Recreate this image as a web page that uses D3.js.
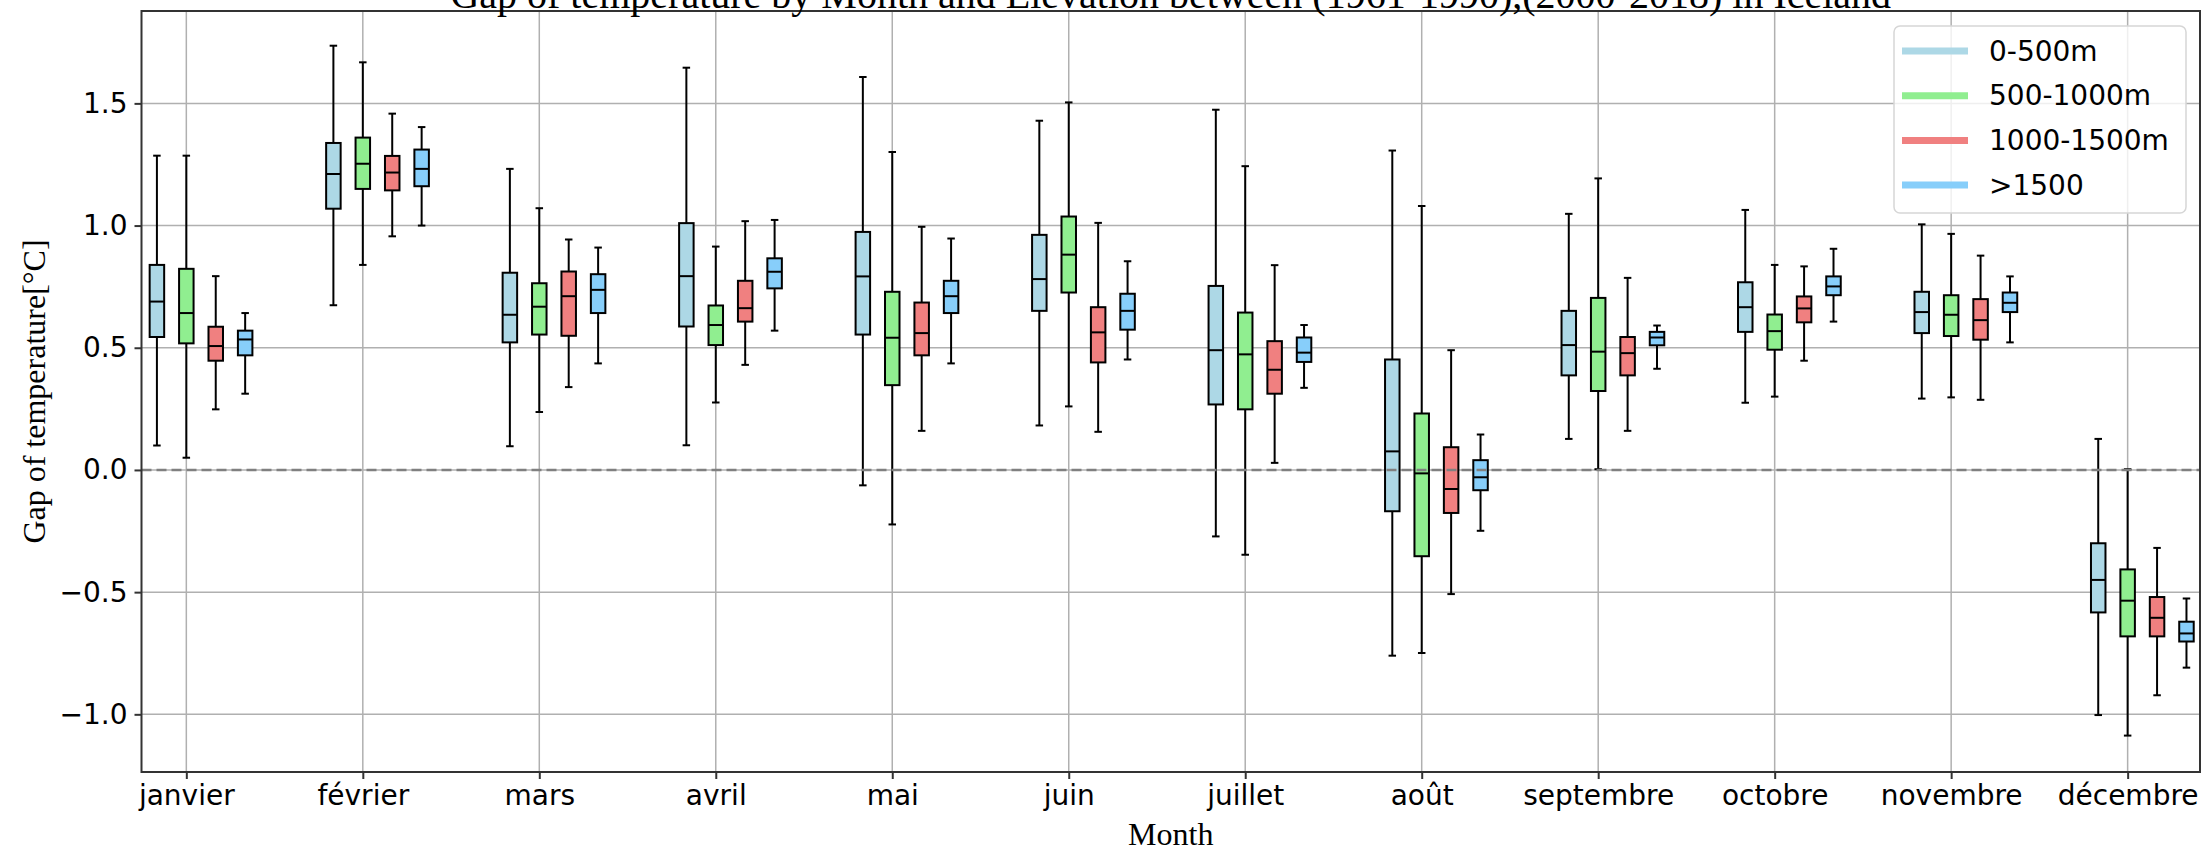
<!DOCTYPE html>
<html>
<head>
<meta charset="utf-8">
<script src="https://cdn.jsdelivr.net/npm/d3@7"></script>
<style>
  html, body { margin: 0; padding: 0; background: #fff; }
  svg { display: block; }
</style>
</head>
<body>
<svg id="chart" width="2206" height="851"></svg>
<script>
// Mois (axe x)
const months = ["janvier", "février", "mars", "avril", "mai", "juin",
  "juillet", "août", "septembre", "octobre", "novembre", "décembre"];

// Tranches d'altitude et couleurs
const elevations = ["0-500m", "500-1000m", "1000-1500m", ">1500"];
const colors = ["#add8e6", "#90ee90", "#f08080", "#87cefa"];

// Résumés des boîtes par mois : [min, q1, médiane, q3, max]
const box0to500 = [
  [0.100, 0.544, 0.689, 0.839, 1.286],
  [0.674, 1.069, 1.211, 1.338, 1.736],
  [0.097, 0.522, 0.635, 0.807, 1.232],
  [0.101, 0.587, 0.793, 1.010, 1.646],
  [-0.063, 0.554, 0.792, 0.974, 1.608],
  [0.182, 0.651, 0.781, 0.962, 1.429],
  [-0.272, 0.268, 0.490, 0.753, 1.474],
  [-0.760, -0.169, 0.076, 0.452, 1.307],
  [0.127, 0.387, 0.511, 0.651, 1.048],
  [0.275, 0.565, 0.666, 0.768, 1.064],
  [0.292, 0.560, 0.646, 0.729, 1.005],
  [-1.003, -0.583, -0.450, -0.300, 0.127]
];
const box500to1000 = [
  [0.050, 0.518, 0.642, 0.823, 1.286],
  [0.839, 1.150, 1.253, 1.360, 1.668],
  [0.237, 0.554, 0.668, 0.764, 1.071],
  [0.276, 0.511, 0.593, 0.673, 0.914],
  [-0.223, 0.347, 0.541, 0.729, 1.301],
  [0.260, 0.726, 0.881, 1.037, 1.504],
  [-0.347, 0.248, 0.473, 0.644, 1.243],
  [-0.749, -0.353, -0.014, 0.231, 1.080],
  [0.003, 0.323, 0.484, 0.704, 1.193],
  [0.300, 0.492, 0.568, 0.636, 0.839],
  [0.297, 0.548, 0.635, 0.715, 0.966],
  [-1.087, -0.681, -0.535, -0.407, 0.003]
];
const box1000to1500 = [
  [0.248, 0.447, 0.507, 0.586, 0.793],
  [0.956, 1.144, 1.217, 1.285, 1.458],
  [0.339, 0.549, 0.711, 0.812, 0.943],
  [0.430, 0.607, 0.662, 0.774, 1.018],
  [0.160, 0.469, 0.560, 0.685, 0.995],
  [0.156, 0.440, 0.563, 0.666, 1.011],
  [0.029, 0.312, 0.410, 0.527, 0.838],
  [-0.508, -0.176, -0.078, 0.093, 0.490],
  [0.160, 0.387, 0.478, 0.544, 0.786],
  [0.447, 0.604, 0.661, 0.710, 0.833],
  [0.287, 0.533, 0.613, 0.699, 0.877],
  [-0.922, -0.681, -0.605, -0.520, -0.319]
];
const boxAbove1500 = [
  [0.312, 0.469, 0.534, 0.570, 0.642],
  [1.000, 1.161, 1.232, 1.311, 1.403],
  [0.436, 0.642, 0.737, 0.801, 0.910],
  [0.570, 0.743, 0.811, 0.866, 1.023],
  [0.436, 0.642, 0.711, 0.774, 0.947],
  [0.452, 0.574, 0.651, 0.721, 0.854],
  [0.336, 0.442, 0.480, 0.542, 0.593],
  [-0.249, -0.083, -0.030, 0.040, 0.145],
  [0.414, 0.510, 0.542, 0.565, 0.591],
  [0.607, 0.715, 0.751, 0.792, 0.905],
  [0.522, 0.646, 0.684, 0.726, 0.792],
  [-0.809, -0.702, -0.669, -0.621, -0.526]
];

// Graduations de l'axe y
const yTicks = [-1.0, -0.5, 0.0, 0.5, 1.0, 1.5];

const series = [box0to500, box500to1000, box1000to1500, boxAbove1500];

document.addEventListener("DOMContentLoaded", () => {
  const svg = d3.select("#chart");
  const left = 141.5, right = 2200, top = 11, bottom = 772;
  const sansFont = "'DejaVu Sans', sans-serif";
  const serifFont = "'Liberation Serif', 'Times New Roman', serif";

  // Échelles
  const x = d3.scaleLinear().domain([-0.254, 11.41]).range([left, right]);
  const y = d3.scaleLinear().domain([-1.236, 1.878]).range([bottom, top]);
  const boxW = 14.5;
  const capW = 7.5;
  const offset = k => (k - 1) / 6;

  // Grille
  svg.append("g")
    .selectAll("line")
    .data(months)
    .join("line")
      .attr("x1", (d, i) => x(i)).attr("x2", (d, i) => x(i))
      .attr("y1", top).attr("y2", bottom)
      .attr("stroke", "#b0b0b0").attr("stroke-width", 1.5);

  svg.append("g")
    .selectAll("line")
    .data(yTicks)
    .join("line")
      .attr("x1", left).attr("x2", right)
      .attr("y1", d => y(d)).attr("y2", d => y(d))
      .attr("stroke", "#b0b0b0").attr("stroke-width", 1.5);

  // Boîtes à moustaches
  series.forEach((boxes, k) => {
    const g = svg.append("g");
    boxes.forEach((b, i) => {
      const cx = x(i + offset(k));
      // moustaches
      g.append("line")
        .attr("x1", cx).attr("x2", cx)
        .attr("y1", y(b[0])).attr("y2", y(b[1]))
        .attr("stroke", "#000").attr("stroke-width", 2);
      g.append("line")
        .attr("x1", cx).attr("x2", cx)
        .attr("y1", y(b[3])).attr("y2", y(b[4]))
        .attr("stroke", "#000").attr("stroke-width", 2);
      // caps
      [b[0], b[4]].forEach(v => {
        g.append("line")
          .attr("x1", cx - capW / 2).attr("x2", cx + capW / 2)
          .attr("y1", y(v)).attr("y2", y(v))
          .attr("stroke", "#000").attr("stroke-width", 2);
      });
      // boîte
      g.append("rect")
        .attr("x", cx - boxW / 2)
        .attr("y", y(b[3]))
        .attr("width", boxW)
        .attr("height", y(b[1]) - y(b[3]))
        .attr("fill", colors[k])
        .attr("stroke", "#000")
        .attr("stroke-width", 2);
      // médiane
      g.append("line")
        .attr("x1", cx - boxW / 2).attr("x2", cx + boxW / 2)
        .attr("y1", y(b[2])).attr("y2", y(b[2]))
        .attr("stroke", "#000").attr("stroke-width", 2);
    });
  });

  // Ligne zéro en pointillés
  svg.append("line")
    .attr("x1", left).attr("x2", right)
    .attr("y1", y(0)).attr("y2", y(0))
    .attr("stroke", "#808080")
    .attr("stroke-width", 2.5)
    .attr("stroke-dasharray", "10,5");

  // Cadre
  svg.append("rect")
    .attr("x", left).attr("y", top)
    .attr("width", right - left).attr("height", bottom - top)
    .attr("fill", "none")
    .attr("stroke", "#333")
    .attr("stroke-width", 2);

  // Axe x
  const xAxis = svg.append("g")
    .attr("transform", `translate(0,${bottom})`)
    .call(d3.axisBottom(x)
      .tickValues(d3.range(months.length))
      .tickFormat(i => months[i])
      .tickSize(7)
      .tickPadding(6));
  xAxis.select(".domain").remove();
  xAxis.selectAll("line").attr("stroke", "#333").attr("stroke-width", 2);
  xAxis.selectAll("text")
    .attr("font-family", sansFont)
    .attr("font-size", 28)
    .attr("fill", "#000");

  // Axe y
  const yAxis = svg.append("g")
    .attr("transform", `translate(${left},0)`)
    .call(d3.axisLeft(y)
      .tickValues(yTicks)
      .tickFormat(d3.format(".1f"))
      .tickSize(7)
      .tickPadding(7));
  yAxis.select(".domain").remove();
  yAxis.selectAll("line").attr("stroke", "#333").attr("stroke-width", 2);
  yAxis.selectAll("text")
    .attr("font-family", sansFont)
    .attr("font-size", 28)
    .attr("fill", "#000");

  // Titres
  svg.append("text")
    .attr("x", (left + right) / 2)
    .attr("y", 8)
    .attr("text-anchor", "middle")
    .attr("font-family", serifFont)
    .attr("font-size", 40)
    .text("Gap of temperature by Month and Elevation between (1961-1990),(2000-2018) in Iceland");

  svg.append("text")
    .attr("x", (left + right) / 2)
    .attr("y", 845)
    .attr("text-anchor", "middle")
    .attr("font-family", serifFont)
    .attr("font-size", 32)
    .text("Month");

  svg.append("text")
    .attr("transform", `translate(45,${(top + bottom) / 2}) rotate(-90)`)
    .attr("text-anchor", "middle")
    .attr("font-family", serifFont)
    .attr("font-size", 32)
    .text("Gap of temperature[°C]");

  // Légende
  const legend = svg.append("g").attr("transform", "translate(1894,26)");
  legend.append("rect")
    .attr("width", 292).attr("height", 187)
    .attr("rx", 6)
    .attr("fill", "#fff").attr("fill-opacity", 0.8)
    .attr("stroke", "#d6d6d6").attr("stroke-width", 1.5);
  elevations.forEach((name, k) => {
    const ly = 25 + k * 44.7;
    legend.append("line")
      .attr("x1", 8).attr("x2", 74)
      .attr("y1", ly).attr("y2", ly)
      .attr("stroke", colors[k])
      .attr("stroke-width", 7);
    legend.append("text")
      .attr("x", 95).attr("y", ly)
      .attr("dominant-baseline", "central")
      .attr("font-family", sansFont)
      .attr("font-size", 28)
      .text(name);
  });
});
</script>
</body>
</html>
